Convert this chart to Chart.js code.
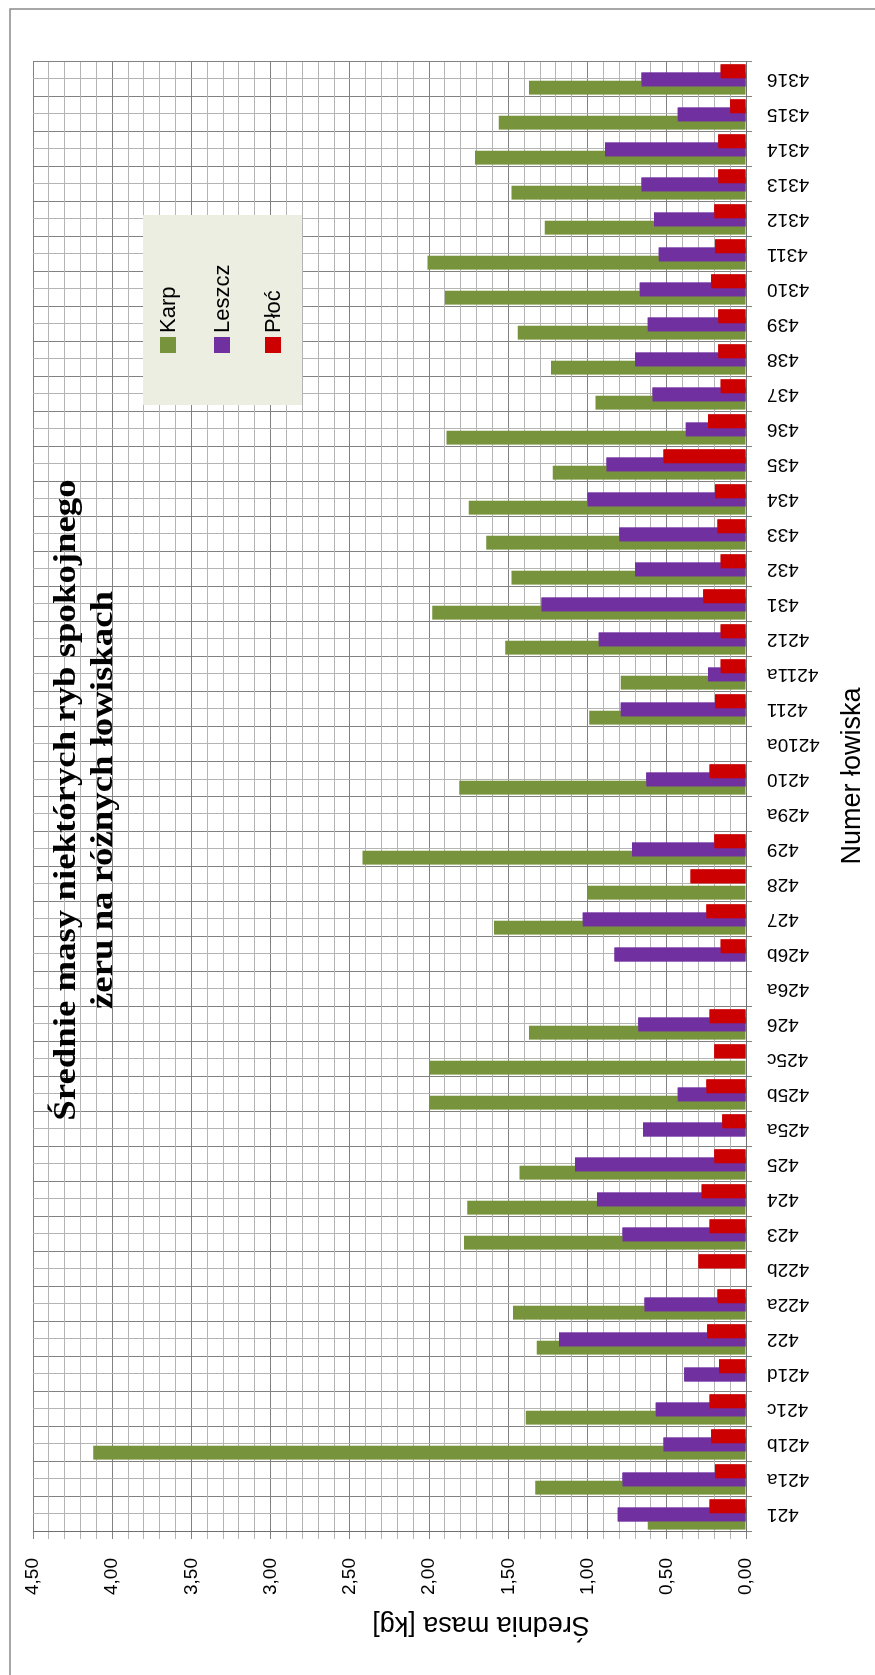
<!DOCTYPE html>
<html>
<head>
<meta charset="utf-8">
<script src="https://cdn.jsdelivr.net/npm/chart.js@4.4.1/dist/chart.umd.min.js"></script>
<style>
  html, body { margin: 0; padding: 0; background: #fff; overflow: hidden; }
  #wrap { position: relative; width: 875px; height: 1675px; overflow: hidden; background: #fff; }
  /* the chart is drawn as a normal column chart and turned a quarter to the left */
  #chart { position: absolute; left: 0; top: 0; transform-origin: 0 0; transform: translate(0, 1675px) rotate(-90deg); }
</style>
</head>
<body>
<div id="wrap"><canvas id="chart" width="1675" height="875"></canvas></div>
<script>
// Data (kg)
const categories = ["421", "421a", "421b", "421c", "421d", "422", "422a", "422b", "423", "424",
  "425", "425a", "425b", "425c", "426", "426a", "426b", "427", "428", "429", "429a", "4210",
  "4210a", "4211", "4211a", "4212", "431", "432", "433", "434", "435", "436", "437", "438",
  "439", "4310", "4311", "4312", "4313", "4314", "4315", "4316"];

const karp = [0.62, 1.33, 4.12, 1.39, null, 1.32, 1.47, null, 1.78, 1.76,
  1.43, null, 2.00, 2.00, 1.37, null, null, 1.59, 1.00, 2.42, null, 1.81,
  null, 0.99, 0.79, 1.52, 1.98, 1.48, 1.64, 1.75, 1.22, 1.89, 0.95, 1.23,
  1.44, 1.90, 2.01, 1.27, 1.48, 1.71, 1.56, 1.37];

const leszcz = [0.81, 0.78, 0.52, 0.57, 0.39, 1.18, 0.64, null, 0.78, 0.94,
  1.08, 0.65, 0.43, null, 0.68, null, 0.83, 1.03, null, 0.72, null, 0.63,
  null, 0.79, 0.24, 0.93, 1.29, 0.70, 0.80, 1.00, 0.88, 0.38, 0.59, 0.70,
  0.62, 0.67, 0.55, 0.58, 0.66, 0.89, 0.43, 0.66];

const ploc = [0.23, 0.195, 0.22, 0.23, 0.17, 0.245, 0.18, 0.30, 0.23, 0.28,
  0.20, 0.15, 0.25, 0.20, 0.23, null, 0.16, 0.25, 0.35, 0.20, null, 0.23,
  null, 0.195, 0.16, 0.16, 0.27, 0.16, 0.18, 0.195, 0.52, 0.24, 0.16, 0.175,
  0.175, 0.22, 0.195, 0.20, 0.175, 0.175, 0.10, 0.16];

const seriesNames = ["Karp", "Leszcz", "Płoć"];
const seriesColors = ["#77933C", "#7030A0", "#CC0000"];

const titleLines = ["Średnie masy niektórych ryb spokojnego", "żeru na różnych łowiskach"];
const valueAxisTitle = "Średnia masa [kg]";
const categoryAxisTitle = "Numer łowiska";

const sans = "'Liberation Sans', Arial, sans-serif";
const serif = "'Liberation Serif', 'Times New Roman', serif";

function isMajor(v) {
  return Math.abs(v * 2 - Math.round(v * 2)) < 1e-6;
}

// gridlines through category centres, bar layering, legend box, titles and outer frame
const decorations = {
  id: "decorations",
  beforeDatasetsDraw(chart) {
    const ctx = chart.ctx;
    const area = chart.chartArea;
    const xs = chart.scales.x;
    ctx.save();
    ctx.strokeStyle = "#b4b4b4";
    ctx.lineWidth = 1;
    categories.forEach(function (c, i) {
      const x = Math.round(xs.getPixelForValue(i)) + 0.5;
      ctx.beginPath();
      ctx.moveTo(x, area.top);
      ctx.lineTo(x, area.bottom);
      ctx.stroke();
    });
    ctx.restore();
  },
  afterDatasetsDraw(chart) {
    // Excel stacks later series over earlier ones: paint Leszcz, then Płoć, again on top
    chart.getDatasetMeta(1).controller.draw();
    chart.getDatasetMeta(2).controller.draw();
  },
  afterDraw(chart) {
    const ctx = chart.ctx;
    const area = chart.chartArea;
    ctx.save();

    // chart title (the scan is a little stretched along the text)
    ctx.fillStyle = "#000";
    ctx.font = "bold 32px " + serif;
    ctx.textAlign = "center";
    ctx.textBaseline = "alphabetic";
    const cx = (area.left + area.right) / 2 - 3;
    ctx.save();
    ctx.translate(cx, 0);
    ctx.scale(1.15, 1);
    ctx.fillText(titleLines[0], 0, 75);
    ctx.fillText(titleLines[1], 0, 112);
    ctx.restore();

    // legend
    ctx.fillStyle = "#ECEEE1";
    ctx.fillRect(1270, 143, 190, 159);
    ctx.font = "22px " + sans;
    ctx.textAlign = "left";
    ctx.textBaseline = "middle";
    const legendY = [168, 222, 273];
    seriesNames.forEach(function (name, i) {
      ctx.fillStyle = seriesColors[i];
      ctx.fillRect(1322, legendY[i] - 8, 16, 16);
      ctx.fillStyle = "#000";
      ctx.fillText(name, 1342, legendY[i] + 1);
    });

    // axis titles
    ctx.font = "27px " + sans;
    ctx.textAlign = "center";
    ctx.textBaseline = "middle";
    ctx.fillText(categoryAxisTitle, 899, 853);
    ctx.save();
    ctx.translate(51, 481);
    ctx.rotate(-Math.PI / 2);
    ctx.fillText(valueAxisTitle, 0, 0);
    ctx.restore();

    // outer frame
    ctx.strokeStyle = "#8a8a8a";
    ctx.lineWidth = 1.5;
    ctx.beginPath();
    ctx.moveTo(0, 10);
    ctx.lineTo(1666, 10);
    ctx.lineTo(1666, 875);
    ctx.stroke();
    ctx.restore();
  }
};

const datasets = [karp, leszcz, ploc].map(function (values, i) {
  return {
    label: seriesNames[i],
    data: values,
    backgroundColor: seriesColors[i],
    borderWidth: 0,
    categoryPercentage: 0.7,
    barPercentage: 1.7
  };
});

new Chart(document.getElementById("chart").getContext("2d"), {
  type: "bar",
  data: { labels: categories, datasets: datasets },
  plugins: [decorations],
  options: {
    responsive: false,
    animation: false,
    layout: { padding: { top: 33, right: 62, bottom: 0, left: 0 } },
    plugins: {
      legend: { display: false },
      title: { display: false },
      tooltip: { enabled: false }
    },
    scales: {
      x: {
        grid: { color: "#828282", tickLength: 6, offset: true },
        border: { color: "#707070" },
        ticks: {
          minRotation: 90,
          maxRotation: 90,
          autoSkip: false,
          padding: 15,
          color: "#000",
          font: { family: sans, size: 19 }
        },
        afterFit: function (scale) { scale.height = 129; }
      },
      y: {
        min: 0,
        max: 4.5,
        grid: {
          color: function (c) { return c.tick && isMajor(c.tick.value) ? "#828282" : "#b4b4b4"; },
          tickLength: 7
        },
        border: { color: "#707070" },
        ticks: {
          stepSize: 0.1,
          autoSkip: false,
          padding: 19,
          color: "#000",
          font: { family: sans, size: 19 },
          callback: function (v) { return isMajor(v) ? v.toFixed(2).replace(".", ",") : ""; }
        },
        afterFit: function (scale) { scale.width = 143; }
      }
    }
  }
});
</script>
</body>
</html>
